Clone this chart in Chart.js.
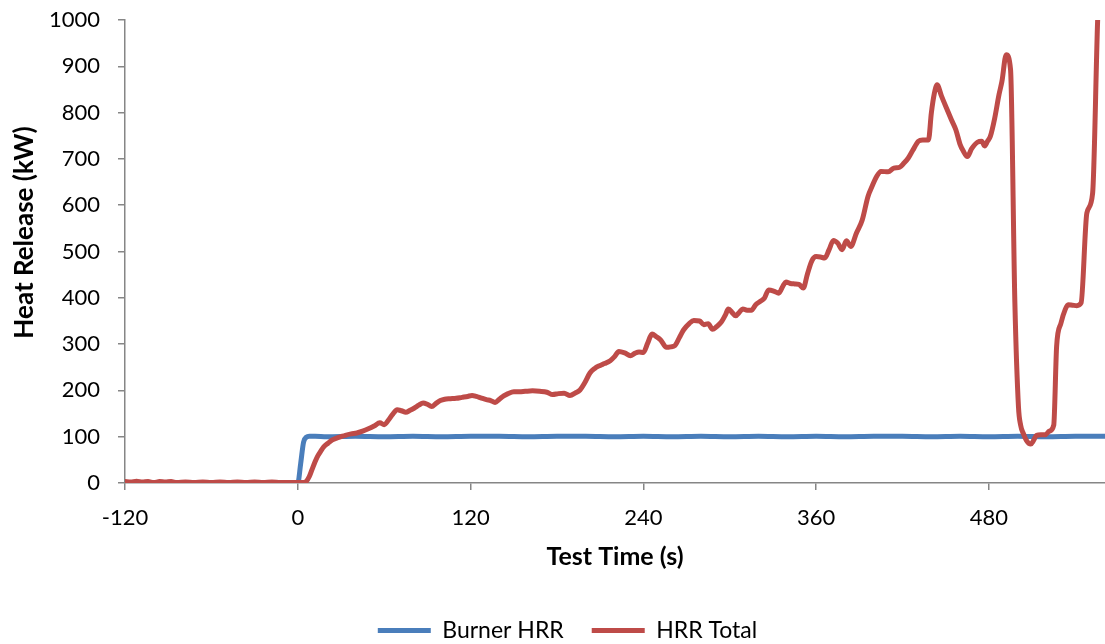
<!DOCTYPE html>
<html>
<head>
<meta charset="utf-8">
<script src="https://cdn.jsdelivr.net/npm/chart.js@4/dist/chart.umd.min.js"></script>
<style>
  html, body { margin: 0; padding: 0; background: #fff; }
  #wrap { width: 1105px; height: 644px; position: relative; }
</style>
</head>
<body>
<div id="wrap"><canvas id="c" width="1105" height="644"></canvas></div>
<script>
// ---- Data ----
const seriesNames = ['Burner HRR', 'HRR Total'];

const timeBurner = [-120, -90, -60, -30, -10, 0, 2, 4, 6, 8, 12, 20, 40, 60, 80, 100, 120, 140, 160, 180, 200, 220, 240, 260, 280, 300, 320, 340, 360, 380, 400, 420, 440, 460, 480, 500, 520, 540, 560];
const hrrBurner  = [0, 0, 0, 0, 0, 0, 42, 88, 99, 101, 101, 100, 101, 100, 101, 100, 101, 101, 100, 101, 101, 100, 101, 100, 101, 100, 101, 100, 101, 100, 101, 101, 100, 101, 100, 101, 100, 101, 101];

const timeTotal = [-120, -116, -112, -108, -104, -100, -96, -92, -88, -84, -78, -72, -66, -60, -54, -48, -42, -36, -30, -24, -18, -12, -6, 0,
  4, 6, 8, 10, 12, 14, 16, 18, 21, 24, 27, 30, 33, 37, 41, 45, 49, 53, 57, 60, 63, 66, 69, 72, 75, 78, 81, 84, 87, 90, 93, 96, 99,
  102, 106, 110, 114, 118, 121, 124, 127, 131, 134, 137, 140, 143, 146, 150, 154, 158, 163, 168, 173, 177, 181, 185, 189, 193, 196, 199,
  203, 206, 210, 213, 217, 220, 223, 227, 231, 234, 237, 240, 243, 246, 249, 252, 256, 259, 262, 265, 268, 272, 275, 279, 282, 285, 288,
  291, 294, 297, 299, 302, 304, 307, 309, 312, 315, 318, 321, 324, 327, 331, 334, 337, 339, 342, 345, 348, 351, 354, 357, 360, 363, 366,
  369, 372, 375, 378, 381, 384, 388, 392, 396, 399, 402, 405, 410, 414, 418, 421, 424, 427, 431, 434, 438, 440, 442, 444, 447, 451, 454,
  457, 460, 462, 465, 468, 472, 475, 477, 479, 481, 484, 487, 489, 492, 495, 498, 500.5, 502, 504, 506, 509, 511, 513, 516, 519, 522, 525,
  527, 530, 533, 535, 538, 541, 544, 548, 552, 555.5, 557];
const hrrTotal = [3, 2, 4, 2, 3, 1, 3, 2, 3, 1, 2, 1, 2, 1, 2, 1, 2, 1, 2, 1, 2, 1, 1, 1,
  1, 4, 14, 30, 46, 59, 69, 78, 86, 93, 97, 100, 103, 106, 108, 112, 117, 123, 130, 126, 136, 149, 158, 156, 153, 157, 162, 168, 173, 170, 165, 172, 178,
  181, 182, 183, 185, 187, 189, 187, 184, 180, 178, 174, 181, 188, 193, 197, 197, 198, 199, 198, 196, 191, 193, 194, 189, 195, 201, 215,
  238, 247, 254, 258, 264, 273, 284, 281, 275, 280, 283, 282, 302, 322, 316, 309, 293, 294, 297, 314, 331, 345, 351, 350, 342, 344, 332,
  338, 347, 363, 376, 367, 361, 370, 376, 373, 373, 385, 392, 399, 417, 414, 410, 426, 434, 431, 430, 429, 421, 452, 480, 489, 488, 486,
  504, 524, 518, 504, 523, 511, 540, 568, 619, 642, 662, 673, 672, 680, 682, 691, 702, 718, 738, 741, 741, 799, 840, 860, 836, 806, 784,
  763, 731, 718, 705, 722, 736, 738, 728, 738, 749, 788, 839, 867, 925, 893, 390, 165, 125, 106, 92, 84, 92, 103, 104, 104, 112, 125,
  295, 345, 375, 385, 384, 383, 389, 583, 626, 1000, 1100];

const xTickValues = [-120, 0, 120, 240, 360, 480];
const yTickStep = 100;

// ---- Build datasets from arrays ----
const toPoints = (xs, ys) => xs.map((x, i) => ({ x: x, y: ys[i] }));

const AXIS = '#868686';
const FONT = 'Lato, "Open Sans", "Liberation Sans", sans-serif';

const yTitlePlugin = {
  id: 'yTitle',
  afterDraw(chart) {
    const ctx = chart.ctx;
    const area = chart.chartArea;
    ctx.save();
    ctx.translate(25, (area.top + area.bottom) / 2 - 19);
    ctx.rotate(-Math.PI / 2);
    ctx.textAlign = 'center';
    ctx.textBaseline = 'middle';
    ctx.fillStyle = '#000';
    ctx.font = 'bold 26px ' + FONT;
    ctx.fillText('Heat Release (kW)', 0, 0);
    ctx.restore();
  }
};

const legendShift = {
  id: 'legendShift',
  afterLayout(chart) {
    if (chart.legend) { chart.legend.left += 15; chart.legend.right += 15; }
  }
};

new Chart(document.getElementById('c'), {
  type: 'line',
  data: {
    datasets: [
      {
        label: seriesNames[0],
        data: toPoints(timeBurner, hrrBurner),
        borderColor: '#4A7EBB',
        backgroundColor: '#4A7EBB',
        borderWidth: 5,
        pointRadius: 0,
        pointStyle: 'line',
        borderCapStyle: 'round',
        borderJoinStyle: 'round',
        cubicInterpolationMode: 'monotone',
        order: 1
      },
      {
        label: seriesNames[1],
        data: toPoints(timeTotal, hrrTotal),
        borderColor: '#BE4B48',
        backgroundColor: '#BE4B48',
        borderWidth: 5,
        pointRadius: 0,
        pointStyle: 'line',
        borderCapStyle: 'round',
        borderJoinStyle: 'round',
        cubicInterpolationMode: 'monotone',
        order: 0
      }
    ]
  },
  options: {
    responsive: false,
    animation: false,
    devicePixelRatio: 1,
    layout: { padding: { top: 20, left: 0, right: 0, bottom: -8 } },
    plugins: {
      tooltip: { enabled: false },
      legend: {
        position: 'bottom',
        labels: {
          usePointStyle: true,
          pointStyleWidth: 53,
          padding: 28,
          color: '#000',
          font: { family: FONT, size: 23 },
          sort: (a, b) => a.datasetIndex - b.datasetIndex
        }
      }
    },
    scales: {
      x: {
        type: 'linear',
        min: -120,
        max: 560.6,
        afterBuildTicks: (s) => { s.ticks = xTickValues.map(v => ({ value: v })); },
        afterFit: (s) => { s.height = 108; s.paddingLeft = 0; s.paddingRight = 0; },
        ticks: { color: '#000', padding: 15, maxRotation: 0, font: { family: FONT, size: 22 }, callback: (v) => String(v) },
        grid: { display: true, drawOnChartArea: false, drawTicks: true, tickLength: 7, color: AXIS, lineWidth: 1.5 },
        border: { display: true, color: AXIS, width: 1.5 },
        title: { display: true, text: 'Test Time (s)', color: '#000', padding: { top: 0, bottom: 19 }, font: { family: FONT, size: 25, weight: 'bold' } }
      },
      y: {
        type: 'linear',
        min: 0,
        max: 1000,
        ticks: { stepSize: yTickStep, color: '#000', padding: 18, font: { family: FONT, size: 22 }, callback: (v) => String(v) },
        afterFit: (s) => { s.width = 125; s.paddingTop = 0; s.paddingBottom = 0; },
        grid: { display: true, drawOnChartArea: false, drawTicks: true, tickLength: 7, color: AXIS, lineWidth: 1.5 },
        border: { display: true, color: AXIS, width: 1.5 }
      }
    }
  },
  plugins: [yTitlePlugin, legendShift]
});
</script>
</body>
</html>
